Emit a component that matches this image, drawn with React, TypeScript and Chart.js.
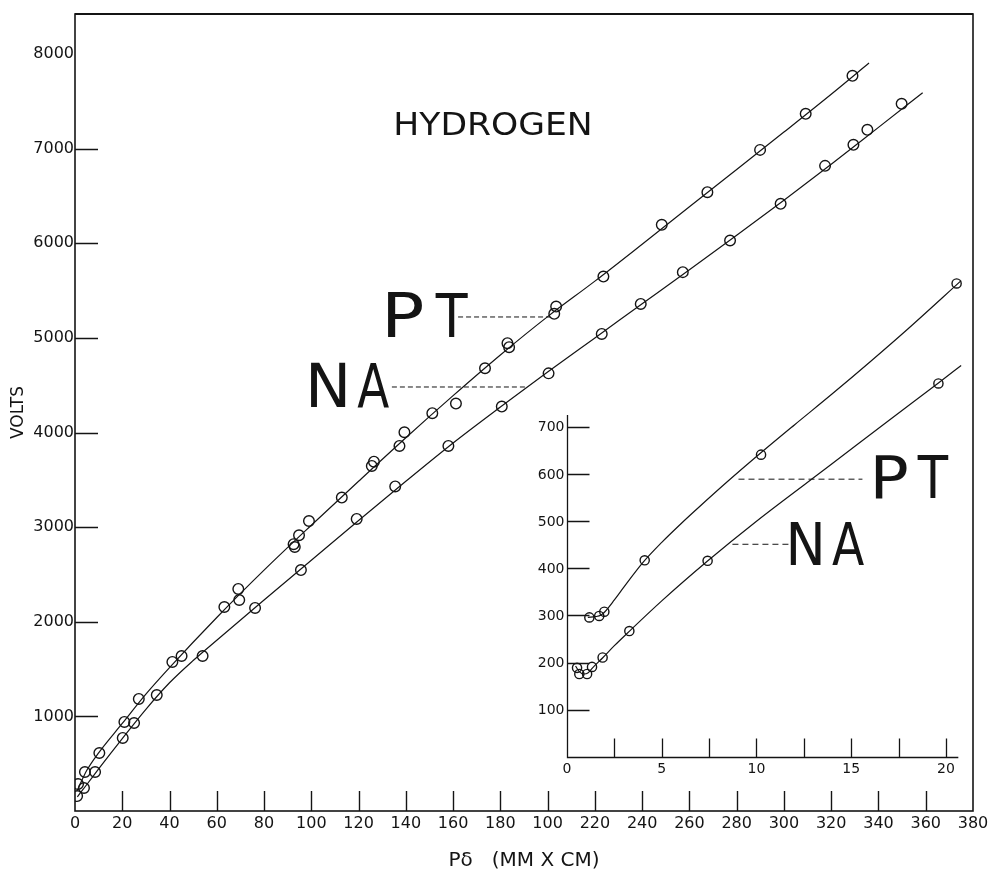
import React, { useEffect, useRef } from 'react';
import { Chart, registerables } from 'chart.js';

Chart.register(...registerables);

// ---------- main chart: axis ticks ----------
const X_TICK_VALUES = [0, 20, 40, 60, 80, 100, 120, 140, 160, 180, 200, 220, 240, 260, 280, 300, 320, 340, 360, 380];
const X_TICK_LABELS = ['0', '20', '40', '60', '80', '100', '120', '140', '160', '180', '100', '220', '240', '260', '280', '300', '320', '340', '360', '380'];
const X_TICK_MARKS = [20, 40, 60, 80, 100, 120, 140, 160, 180, 200, 220, 240, 260, 280, 300, 320, 340, 360];
const Y_TICK_VALUES = [1000, 2000, 3000, 4000, 5000, 6000, 7000, 8000];
const Y_TICK_LABELS = ['1000', '2000', '3000', '4000', '5000', '6000', '7000', '8000'];
const Y_TICK_MARKS = [1000, 2000, 3000, 4000, 5000, 6000, 7000];

// ---------- main chart: measured points ----------
const PT_X = [1.3, 4.2, 10.3, 20.9, 27, 41.2, 45.1, 63.2, 69.1, 69.5, 92.5, 93, 94.8, 99, 112.9, 125.6, 126.5, 137.3, 139.4, 151.2, 161.2, 173.5, 183, 183.7, 202.8, 203.6, 223.6, 248.3, 267.6, 289.9, 309.2, 329];
const PT_Y = [285, 412, 613, 941, 1184, 1575, 1638, 2156, 2347, 2230, 2820, 2790, 2914, 3065, 3312, 3647, 3692, 3858, 4003, 4204, 4306, 4679, 4944, 4902, 5254, 5331, 5648, 6195, 6540, 6987, 7368, 7770];
const NA_X = [0.9, 3.8, 8.5, 20.2, 25, 34.6, 54, 76.2, 95.6, 119.2, 135.5, 158, 180.6, 200.4, 222.9, 239.4, 257.2, 277.2, 298.6, 317.4, 329.4, 335.3, 349.8];
const NA_Y = [158, 243, 412, 772, 930, 1226, 1638, 2146, 2546, 3087, 3430, 3858, 4274, 4625, 5042, 5359, 5695, 6029, 6417, 6818, 7040, 7199, 7474];

// ---------- main chart: drawn curves ----------
const PT_CURVE_X = [1, 5, 10, 20, 30, 40, 60, 80, 100, 120, 140, 160, 180, 200, 220, 240, 260, 280, 300, 320, 336];
const PT_CURVE_Y = [220, 430, 615, 925, 1235, 1515, 2045, 2545, 3020, 3485, 3945, 4390, 4820, 5225, 5600, 5990, 6385, 6780, 7175, 7575, 7905];
const NA_CURVE_X = [1, 5, 10, 20, 30, 40, 50, 60, 80, 100, 120, 140, 160, 180, 200, 220, 240, 260, 280, 300, 320, 340, 358.7];
const NA_CURVE_Y = [150, 280, 445, 765, 1075, 1355, 1590, 1805, 2230, 2650, 3070, 3485, 3890, 4270, 4640, 5000, 5360, 5720, 6085, 6455, 6835, 7225, 7590];

// ---------- inset ----------
const INSET_X_LABEL_VALUES = [0, 5, 10, 15, 20];
const INSET_X_LABELS = ['0', '5', '10', '15', '20'];
const INSET_X_TICK_MARKS = [2.5, 5, 7.5, 10, 12.5, 15, 17.5, 20];
const INSET_Y_TICK_VALUES = [100, 200, 300, 400, 500, 600, 700];
const INSET_Y_LABELS = ['100', '200', '300', '400', '500', '600', '700'];
const INSET_X_END = 20.65;
const INSET_Y_TOP = 725;

const INSET_PT_X = [1.18, 1.7, 1.97, 4.1, 10.24, 20.56];
const INSET_PT_Y = [296, 299, 308, 417, 641, 1004];
const INSET_NA_X = [0.53, 0.65, 1.06, 1.32, 1.88, 3.29, 7.42, 19.6];
const INSET_NA_Y = [189, 176, 176, 191, 211, 267, 416, 792];

const INSET_PT_CURVE_X = [1.1, 1.5, 1.8, 2.0, 2.5, 3, 4, 5, 6, 7, 8.5, 10, 12, 14, 16, 18, 20.8];
const INSET_PT_CURVE_Y = [296, 297.5, 301, 308, 333, 360, 412, 455, 494, 531, 585, 637, 704, 770, 838, 908, 1010];
const INSET_NA_CURVE_X = [0.45, 0.65, 0.9, 1.1, 1.35, 1.9, 2.5, 3.3, 5, 7.4, 10, 13.9, 17, 19.6, 20.8];
const INSET_NA_CURVE_Y = [193, 181, 176, 178, 189, 211, 236, 267, 331, 415, 500, 619, 714, 793, 830];

// ---------- text ----------
const TITLE = 'HYDROGEN';
const X_TITLE = 'Pδ   (MM X CM)';
const Y_TITLE = 'VOLTS';

const INK = '#141414';
const FONT = "'DejaVu Sans', sans-serif";

const pts = (xs: number[], ys: number[]) => xs.map((x, i) => ({ x, y: ys[i] }));

function fitText(ctx: CanvasRenderingContext2D, text: string, inkLeft: number, baseline: number, inkWidth: number, size: number) {
  ctx.font = `${size}px ${FONT}`;
  ctx.textAlign = 'left';
  ctx.textBaseline = 'alphabetic';
  const m = ctx.measureText(text);
  const natural = m.actualBoundingBoxLeft + m.actualBoundingBoxRight;
  const s = inkWidth / natural;
  ctx.save();
  ctx.translate(inkLeft, baseline);
  ctx.scale(s, 1);
  ctx.fillText(text, m.actualBoundingBoxLeft, 0);
  ctx.restore();
}

function bigLabel(ctx: CanvasRenderingContext2D, letters: string[], widths: number[], left: number, baseline: number, gap: number, size: number) {
  let x = left;
  letters.forEach((ch, i) => {
    fitText(ctx, ch, x, baseline, widths[i], size);
    x += widths[i] + gap;
  });
}

const overlay = {
  id: 'overlay',
  afterDatasetsDraw(chart: any) {
    const { ctx, chartArea: a, scales } = chart;
    const x = scales.x, y = scales.y, x2 = scales.x2, y2 = scales.y2;
    ctx.save();
    ctx.strokeStyle = INK;
    ctx.fillStyle = INK;
    ctx.lineCap = 'butt';

    // frame
    ctx.lineWidth = 1.6;
    ctx.strokeRect(a.left, a.top, a.right - a.left, a.bottom - a.top);
    ctx.lineWidth = 2;
    ctx.beginPath();
    ctx.moveTo(a.left, a.top);
    ctx.lineTo(a.right, a.top);
    ctx.stroke();

    // main inward ticks
    ctx.lineWidth = 1.4;
    ctx.beginPath();
    X_TICK_MARKS.forEach((v) => {
      const px = Math.round(x.getPixelForValue(v)) + 0.5;
      ctx.moveTo(px, a.bottom);
      ctx.lineTo(px, a.bottom - 20);
    });
    Y_TICK_MARKS.forEach((v) => {
      const py = Math.round(y.getPixelForValue(v)) + 0.5;
      ctx.moveTo(a.left, py);
      ctx.lineTo(a.left + 23, py);
    });
    ctx.stroke();

    // inset axes
    const ox = Math.round(x2.getPixelForValue(0)) + 0.5;
    const oy = Math.round(y2.getPixelForValue(0)) + 0.5;
    ctx.lineWidth = 1.3;
    ctx.beginPath();
    ctx.moveTo(ox, y2.getPixelForValue(INSET_Y_TOP));
    ctx.lineTo(ox, oy);
    ctx.lineTo(x2.getPixelForValue(INSET_X_END), oy);
    INSET_X_TICK_MARKS.forEach((v) => {
      const px = Math.round(x2.getPixelForValue(v)) + 0.5;
      ctx.moveTo(px, oy);
      ctx.lineTo(px, oy - 19);
    });
    INSET_Y_TICK_VALUES.forEach((v) => {
      const py = Math.round(y2.getPixelForValue(v)) + 0.5;
      ctx.moveTo(ox, py);
      ctx.lineTo(ox + 22, py);
    });
    ctx.stroke();

    ctx.font = `14px ${FONT}`;
    ctx.textAlign = 'right';
    ctx.textBaseline = 'middle';
    INSET_Y_TICK_VALUES.forEach((v, i) => {
      ctx.fillText(INSET_Y_LABELS[i], ox - 3, y2.getPixelForValue(v) + 1);
    });
    ctx.textAlign = 'center';
    INSET_X_LABEL_VALUES.forEach((v, i) => {
      ctx.fillText(INSET_X_LABELS[i], x2.getPixelForValue(v), oy + 12);
    });

    // leader lines
    ctx.lineWidth = 1;
    ctx.setLineDash([5, 3]);
    ctx.beginPath();
    ctx.moveTo(x.getPixelForValue(162.1), y.getPixelForValue(5221));
    ctx.lineTo(x.getPixelForValue(201.0), y.getPixelForValue(5221));
    ctx.moveTo(x.getPixelForValue(134.1), y.getPixelForValue(4481));
    ctx.lineTo(x.getPixelForValue(191.3), y.getPixelForValue(4481));
    ctx.stroke();
    ctx.setLineDash([6, 4]);
    ctx.beginPath();
    ctx.moveTo(x2.getPixelForValue(9.05), y2.getPixelForValue(589));
    ctx.lineTo(x2.getPixelForValue(15.59), y2.getPixelForValue(589));
    ctx.moveTo(x2.getPixelForValue(8.73), y2.getPixelForValue(451));
    ctx.lineTo(x2.getPixelForValue(11.71), y2.getPixelForValue(451));
    ctx.stroke();
    ctx.setLineDash([]);

    // big labels
    bigLabel(ctx, ['P', 'T'], [36, 33], x.getPixelForValue(132.0), y.getPixelForValue(5009), 12, 60);
    bigLabel(ctx, ['N', 'A'], [35, 32], x.getPixelForValue(99.5), y.getPixelForValue(4270), 12, 60);
    bigLabel(ctx, ['P', 'T'], [32, 32], x2.getPixelForValue(16.25), y2.getPixelForValue(549), 10, 59);
    bigLabel(ctx, ['N', 'A'], [31, 32], x2.getPixelForValue(11.77), y2.getPixelForValue(407), 11, 59);

    // title
    fitText(ctx, TITLE, x.getPixelForValue(176.9) - 96.5, y.getPixelForValue(7144), 193, 32);

    ctx.restore();
  },
};

export default function App() {
  const ref = useRef<HTMLCanvasElement>(null);

  useEffect(() => {
    const canvas = ref.current!;
    const curve = (data: any[], xAxisID: string, yAxisID: string) => ({
      data,
      xAxisID,
      yAxisID,
      showLine: true,
      pointRadius: 0,
      borderColor: INK,
      borderWidth: 1.2,
      cubicInterpolationMode: 'monotone' as const,
      fill: false,
    });
    const marks = (data: any[], xAxisID: string, yAxisID: string, r: number) => ({
      data,
      xAxisID,
      yAxisID,
      showLine: false,
      pointRadius: r,
      pointBorderWidth: 1.4,
      pointBorderColor: INK,
      pointBackgroundColor: 'rgba(255,255,255,0)',
    });

    const chart = new Chart(canvas, {
      type: 'scatter',
      data: {
        datasets: [
          curve(pts(PT_CURVE_X, PT_CURVE_Y), 'x', 'y'),
          curve(pts(NA_CURVE_X, NA_CURVE_Y), 'x', 'y'),
          marks(pts(PT_X, PT_Y), 'x', 'y', 5.3),
          marks(pts(NA_X, NA_Y), 'x', 'y', 5.3),
          curve(pts(INSET_PT_CURVE_X, INSET_PT_CURVE_Y), 'x2', 'y2'),
          curve(pts(INSET_NA_CURVE_X, INSET_NA_CURVE_Y), 'x2', 'y2'),
          marks(pts(INSET_PT_X, INSET_PT_Y), 'x2', 'y2', 4.6),
          marks(pts(INSET_NA_X, INSET_NA_Y), 'x2', 'y2', 4.6),
        ] as any,
      },
      options: {
        responsive: false,
        devicePixelRatio: 1,
        animation: false,
        layout: { padding: { top: 14, right: 16, left: 0, bottom: 0 } },
        plugins: { legend: { display: false }, tooltip: { enabled: false } },
        scales: {
          x: {
            type: 'linear',
            position: 'bottom',
            min: 0,
            max: 380,
            afterBuildTicks: (s: any) => {
              s.ticks = X_TICK_VALUES.map((v) => ({ value: v }));
            },
            afterFit: (s: any) => {
              s.height = 62;
              s.paddingLeft = 0;
              s.paddingRight = 0;
            },
            grid: { display: false, drawTicks: false },
            border: { display: false },
            ticks: {
              autoSkip: false,
              maxRotation: 0,
              padding: 3,
              color: INK,
              font: { family: FONT, size: 16 },
              callback: (v: any) => X_TICK_LABELS[X_TICK_VALUES.indexOf(Number(v))],
            },
            title: { display: true, text: X_TITLE, color: INK, font: { family: FONT, size: 20 }, padding: { top: 0, bottom: 0 } },
          },
          y: {
            type: 'linear',
            position: 'left',
            min: 0,
            max: 8423,
            afterBuildTicks: (s: any) => {
              s.ticks = Y_TICK_VALUES.map((v) => ({ value: v }));
            },
            afterFit: (s: any) => {
              s.width = 75;
              s.paddingTop = 0;
              s.paddingBottom = 0;
            },
            grid: { display: false, drawTicks: false },
            border: { display: false },
            ticks: {
              autoSkip: false,
              padding: 1,
              color: INK,
              font: { family: FONT, size: 16 },
              callback: (v: any) => Y_TICK_LABELS[Y_TICK_VALUES.indexOf(Number(v))],
            },
            title: { display: true, text: Y_TITLE, color: INK, font: { family: FONT, size: 17 }, padding: { top: 8, bottom: 0 } },
          },
          x2: { type: 'linear', display: false, position: 'bottom', min: -25.963, max: 21.425 },
          y2: { type: 'linear', display: false, position: 'left', min: -114.48, max: 1575.2 },
        },
      } as any,
      plugins: [overlay],
    });
    return () => chart.destroy();
  }, []);

  return (
    <div style={{ position: 'absolute', left: 0, top: 0, width: 989, height: 873, background: '#fff' }}>
      <canvas ref={ref} width={989} height={873} style={{ display: 'block', width: 989, height: 873 }} />
    </div>
  );
}
